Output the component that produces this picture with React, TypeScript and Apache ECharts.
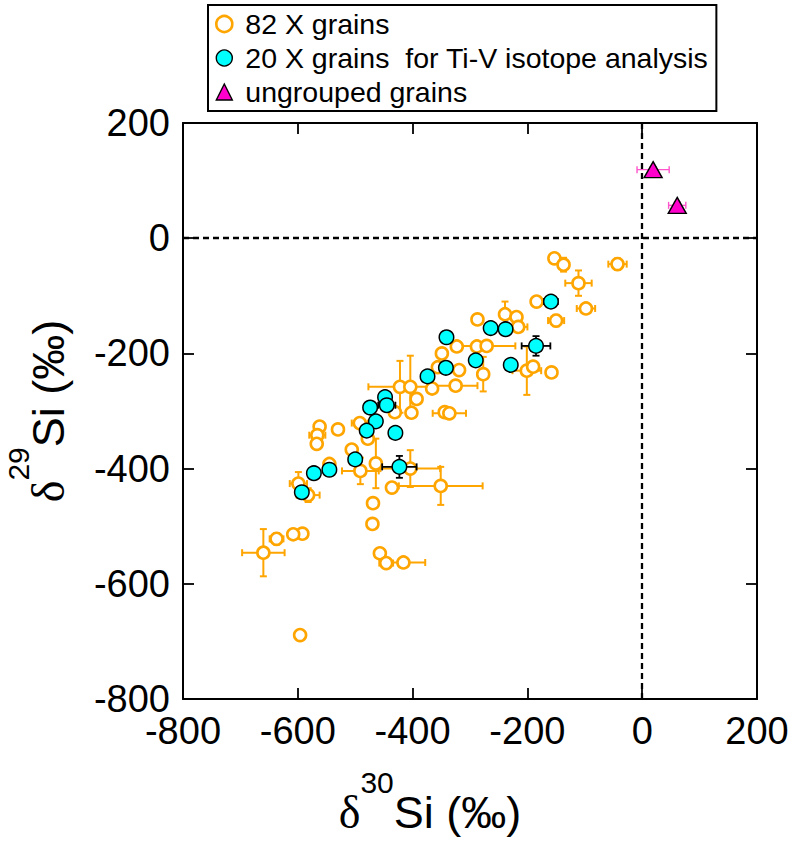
import React, { useEffect, useRef } from 'react';
import * as echarts from 'echarts';

// 82 X grains (open orange circles): δ30Si, δ29Si, 1σ errors
const orangeX = [-153, -137, -43, -111, -98, -150, -184, -287, -239, -219, -216, -349, -323, -288, -271, -356, -319, -277, -201, -190, -158, -325, -366, -422, -404, -393, -402, -431, -344, -336, -562, -566, -567, -530, -492, -478, -506, -545, -491, -464, -404, -436, -351, -599, -582, -469, -470, -592, -608, -637, -660, -457, -446, -416, -596];
const orangeY = [-35, -46, -45, -78, -122, -143, -110, -141, -132, -137, -154, -200, -188, -188, -187, -224, -229, -236, -230, -223, -233, -256, -261, -258, -258, -279, -303, -302, -302, -304, -327, -342, -357, -332, -321, -348, -367, -392, -404, -391, -400, -433, -430, -426, -446, -460, -496, -513, -514, -522, -546, -547, -564, -563, -689];
const orangeXErr = [8, 8, 16, 23, 16, 14, 8, 8, 6, 8, 16, 8, 8, 8, 50, 8, 8, 8, 25, 8, 8, 38, 8, 55, 8, 8, 8, 8, 8, 29, 8, 14, 8, 8, 14, 8, 8, 8, 32, 8, 52, 8, 73, 15, 20, 8, 8, 8, 8, 12, 37, 8, 12, 38, 8];
const orangeYErr = [8, 12, 10, 22, 8, 10, 8, 8, 22, 8, 8, 8, 8, 8, 8, 8, 8, 30, 42, 8, 8, 8, 8, 45, 54, 8, 8, 8, 8, 8, 8, 8, 8, 8, 8, 8, 8, 8, 23, 43, 32, 8, 33, 20, 12, 8, 8, 8, 8, 10, 41, 8, 8, 8, 8];

// 20 X grains for Ti-V isotope analysis (cyan)
const cyanX = [-159, -264, -238, -341, -185, -290, -229, -342, -374, -474, -448, -445, -464, -480, -430, -500, -423, -545, -572, -593];
const cyanY = [-110, -156, -158, -172, -187, -212, -220, -225, -240, -294, -276, -290, -318, -334, -338, -384, -397, -402, -408, -441];
const cyanXErr = [12, 8, 8, 8, 25, 8, 8, 8, 8, 8, 8, 15, 8, 10, 8, 8, 30, 8, 8, 8];
const cyanYErr = [8, 8, 8, 8, 17, 8, 8, 8, 8, 8, 8, 8, 8, 8, 8, 8, 19, 8, 8, 8];

// ungrouped grains (magenta triangles)
const magX = [19, 61];
const magY = [119, 57];
const magXErr = [28, 15];
const magYErr = [5, 6];

const axisTicks = [-800, -600, -400, -200, 0, 200];

const seriesNames = ['82 X grains', '20 X grains  for Ti-V isotope analysis', 'ungrouped grains'];

const zip = (xs: number[], ys: number[]) => xs.map((x, i) => [x, ys[i]]);
const zip4 = (xs: number[], ys: number[], ex: number[], ey: number[]) => xs.map((x, i) => [x, ys[i], ex[i], ey[i]]);

const errRender = (color: string, lw: number) => (params: any, api: any) => {
  const x = api.value(0), y = api.value(1), ex = api.value(2), ey = api.value(3);
  const c = api.coord([x, y]);
  const l = api.coord([x - ex, y]);
  const r = api.coord([x + ex, y]);
  const t = api.coord([x, y + ey]);
  const b = api.coord([x, y - ey]);
  const cap = 3.5;
  const style = { stroke: color, lineWidth: lw, fill: 'none' };
  const children: any[] = [];
  if (ex > 0) {
    children.push({ type: 'line', shape: { x1: l[0], y1: c[1], x2: r[0], y2: c[1] }, style });
    children.push({ type: 'line', shape: { x1: l[0], y1: c[1] - cap, x2: l[0], y2: c[1] + cap }, style });
    children.push({ type: 'line', shape: { x1: r[0], y1: c[1] - cap, x2: r[0], y2: c[1] + cap }, style });
  }
  if (ey > 0) {
    children.push({ type: 'line', shape: { x1: c[0], y1: t[1], x2: c[0], y2: b[1] }, style });
    children.push({ type: 'line', shape: { x1: c[0] - cap, y1: t[1], x2: c[0] + cap, y2: t[1] }, style });
    children.push({ type: 'line', shape: { x1: c[0] - cap, y1: b[1], x2: c[0] + cap, y2: b[1] }, style });
  }
  return { type: 'group', children };
};

const FONT = 'Liberation Sans, Arial, sans-serif';

const baseAxis = (showLabels: boolean, margin = 14) => ({
  type: 'value' as const,
  min: -800,
  max: 200,
  interval: 200,
  axisLine: { show: true, onZero: false, lineStyle: { color: '#000', width: 2 } },
  axisTick: { show: true, inside: true, length: 11, lineStyle: { color: '#000', width: 1.8 } },
  axisLabel: {
    show: showLabels,
    color: '#000',
    fontSize: 38,
    fontFamily: FONT,
    margin,
    formatter: (v: number) => (axisTicks.includes(v) ? String(v) : ''),
  },
  splitLine: { show: false },
});

export default function App() {
  const ref = useRef<HTMLDivElement>(null);
  useEffect(() => {
    if (!ref.current) return;
    const chart = echarts.init(ref.current, null, { renderer: 'svg' });
    const titleRich = {
      d: { fontFamily: 'Liberation Serif, serif', fontSize: 46, color: '#000' },
      s: { fontFamily: FONT, fontSize: 30, color: '#000', padding: [0, 0, 60, 0] },
      n: { fontFamily: FONT, fontSize: 45, color: '#000' },
    };
    const option: any = {
      animation: false,
      backgroundColor: '#fff',
      grid: { left: 183, top: 123, width: 574, height: 576, containLabel: false, outerBoundsMode: 'none' },
      legend: {
        orient: 'vertical',
        left: 208,
        top: 5,
        padding: [2, 8, 2, 7],
        itemGap: 0,
        itemWidth: 16,
        itemHeight: 16,
        borderColor: '#000',
        borderWidth: 2,
        backgroundColor: '#fff',
        textStyle: { fontSize: 28.5, fontFamily: FONT, color: '#000', lineHeight: 34, padding: [0, 0, 0, 8] },
        data: [
          { name: seriesNames[0], icon: 'circle', itemStyle: { color: '#fff', borderColor: '#ffa500', borderWidth: 2.6 } },
          { name: seriesNames[1], icon: 'circle', itemStyle: { color: '#00ffff', borderColor: '#000', borderWidth: 1.4 } },
          { name: seriesNames[2], icon: 'triangle', itemStyle: { color: '#ff00cc', borderColor: '#000', borderWidth: 1.4 } },
        ],
      },
      xAxis: [
        {
          ...baseAxis(true, 13),
          position: 'bottom',
          name: '{d|δ}{s|30}{n|Si (‰)}',
          nameLocation: 'middle',
          nameGap: 68,
          nameTextStyle: { rich: titleRich, padding: [0, 80, 0, 0] },
        },
        { ...baseAxis(false), position: 'top' },
      ],
      yAxis: [
        {
          ...baseAxis(true, 13),
          position: 'left',
          name: '{d|δ}{s|29}{n|Si (‰)}',
          nameLocation: 'middle',
          nameRotate: 90,
          nameGap: 90,
          nameTextStyle: { rich: titleRich },
        },
        { ...baseAxis(false), position: 'right' },
      ],
      series: [
        {
          type: 'custom',
          name: 'err-orange',
          renderItem: errRender('#ffa500', 2),
          data: zip4(orangeX, orangeY, orangeXErr, orangeYErr),
          encode: { x: 0, y: 1 },
          z: 1,
          silent: true,
        },
        {
          type: 'custom',
          name: 'err-cyan',
          renderItem: errRender('#000', 1.8),
          data: zip4(cyanX, cyanY, cyanXErr, cyanYErr),
          encode: { x: 0, y: 1 },
          z: 3,
          silent: true,
        },
        {
          type: 'custom',
          name: 'err-mag',
          renderItem: errRender('#ff55cc', 1.4),
          data: zip4(magX, magY, magXErr, magYErr),
          encode: { x: 0, y: 1 },
          z: 3,
          silent: true,
        },
        {
          type: 'scatter',
          name: seriesNames[0],
          data: zip(orangeX, orangeY),
          symbol: 'circle',
          symbolSize: 12,
          itemStyle: { color: '#fff', borderColor: '#ffa500', borderWidth: 2.6, opacity: 1 },
          z: 2,
        },
        {
          type: 'scatter',
          name: seriesNames[1],
          data: zip(cyanX, cyanY),
          symbol: 'circle',
          symbolSize: 14.5,
          itemStyle: { color: '#00ffff', borderColor: '#000', borderWidth: 1.5, opacity: 1 },
          z: 4,
        },
        {
          type: 'scatter',
          name: seriesNames[2],
          data: zip(magX, magY),
          symbol: 'triangle',
          symbolSize: [18, 16],
          itemStyle: { color: '#ff00cc', borderColor: '#000', borderWidth: 1.4, opacity: 1 },
          z: 4,
          markLine: {
            silent: true,
            symbol: ['none', 'none'],
            label: { show: false },
            lineStyle: { color: '#000', width: 2.3, type: [6, 4] },
            z: 1,
            data: [{ xAxis: 0 }, { yAxis: 0 }],
          },
        },
      ],
    };
    chart.setOption(option);
    return () => chart.dispose();
  }, []);
  return <div ref={ref} style={{ position: 'absolute', left: 0, top: 0, width: 796, height: 845 }} />;
}
